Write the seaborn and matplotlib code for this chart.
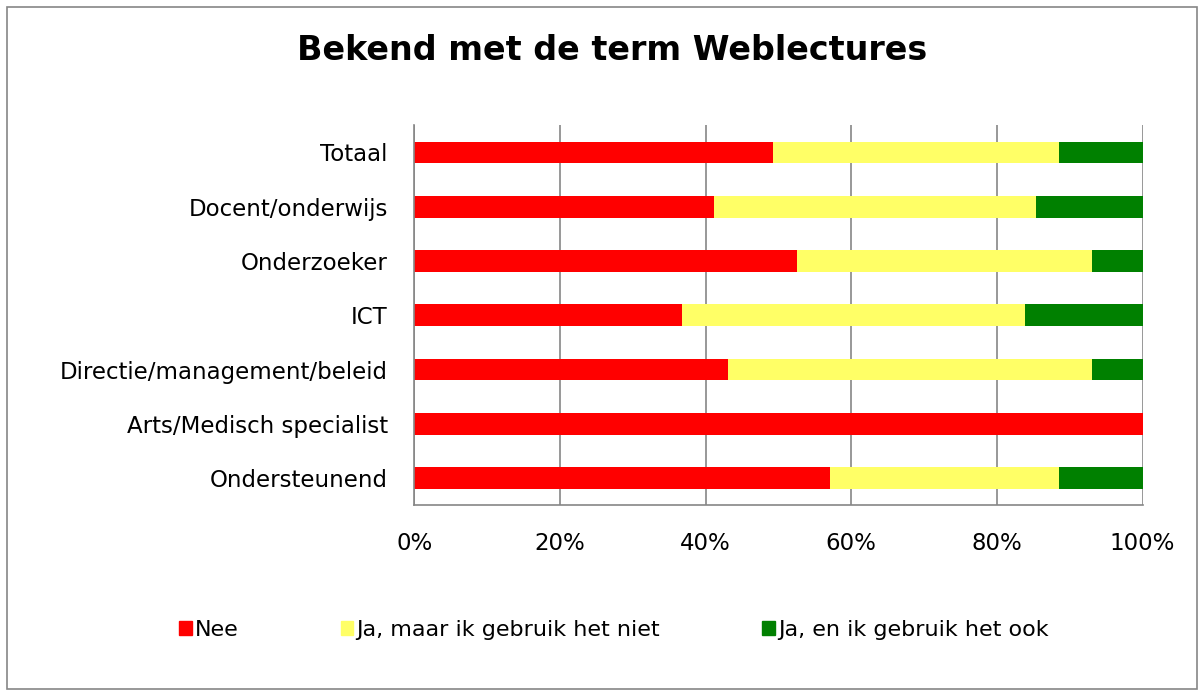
import numpy as np
import pandas as pd
import matplotlib
matplotlib.use('Agg')
import matplotlib.pyplot as plt
import seaborn as sns
from matplotlib.patches import Rectangle
from matplotlib.ticker import FixedLocator, PercentFormatter

# data (percentages per group)
categories = ['Totaal', 'Docent/onderwijs', 'Onderzoeker', 'ICT',
              'Directie/management/beleid', 'Arts/Medisch specialist', 'Ondersteunend']
nee = [49.2, 41.1, 52.5, 36.7, 43.1, 100.0, 57.1]
ja_niet = [39.3, 44.3, 40.6, 47.1, 50.0, 0.0, 31.4]
ja_ook = [11.5, 14.6, 6.9, 16.2, 6.9, 0.0, 11.5]
series = ['Nee', 'Ja, maar ik gebruik het niet', 'Ja, en ik gebruik het ook']
colors = ['#FF0000', '#FFFF66', '#008000']

df = pd.DataFrame({'cat': categories, series[0]: nee, series[1]: ja_niet, series[2]: ja_ook})
df['c1'] = df[series[0]]
df['c2'] = df['c1'] + df[series[1]]
df['c3'] = df['c2'] + df[series[2]]

sns.set_style('white')
plt.rcParams['font.family'] = ['DejaVu Sans']
plt.rcParams['text.color'] = 'black'
plt.rcParams['xtick.color'] = 'black'
plt.rcParams['ytick.color'] = 'black'

fig = plt.figure(figsize=(12.04, 6.96), dpi=100)
ax = fig.add_axes([0.344, 0.274, 0.605, 0.546])

# stacked bars: draw cumulative totals from back to front
for col, color in zip(['c3', 'c2', 'c1'], colors[::-1]):
    sns.barplot(data=df, x=col, y='cat', order=categories, color=color,
                width=0.4, saturation=1, ax=ax, edgecolor='none')

ax.set_xlim(0, 100)
ax.set_ylim(len(categories) - 0.5, -0.5)
ax.set_xticks([0, 20, 40, 60, 80, 100])
ax.xaxis.set_major_formatter(PercentFormatter(decimals=0))
ax.grid(axis='x', color='#868686', linewidth=1.2)
ax.set_axisbelow(True)
ax.set_xlabel('')
ax.set_ylabel('')

for s in ['top', 'right']:
    ax.spines[s].set_visible(False)
for s in ['left', 'bottom']:
    ax.spines[s].set_color('#868686')
    ax.spines[s].set_linewidth(1.2)

ax.tick_params(axis='y', which='major', length=0, labelsize=16.5, pad=19)
ax.yaxis.set_minor_locator(FixedLocator(np.arange(-0.5, len(categories), 1)))
ax.tick_params(axis='y', which='minor', length=5, color='#868686', width=1.2)
ax.tick_params(axis='x', which='major', length=5, color='#868686', width=1.2,
               labelsize=16.5, pad=14, labelcolor='black')

fig.text(0.508, 0.928, 'Bekend met de term Weblectures', fontsize=24,
         fontweight='bold', ha='center', va='center')

handles = [Rectangle((0, 0), 1, 1, color=c) for c in colors]
fig.legend(handles, series, loc='center', bbox_to_anchor=(0.51, 0.095), ncol=3,
           frameon=False, fontsize=16, handlelength=0.55, handleheight=0.55,
           handletextpad=0.15, columnspacing=4.6)

fig.add_artist(Rectangle((0.006, 0.01), 0.988, 0.98, transform=fig.transFigure,
                         fill=False, edgecolor='#868686', linewidth=1.2))

fig.savefig('out.png', dpi=100)
